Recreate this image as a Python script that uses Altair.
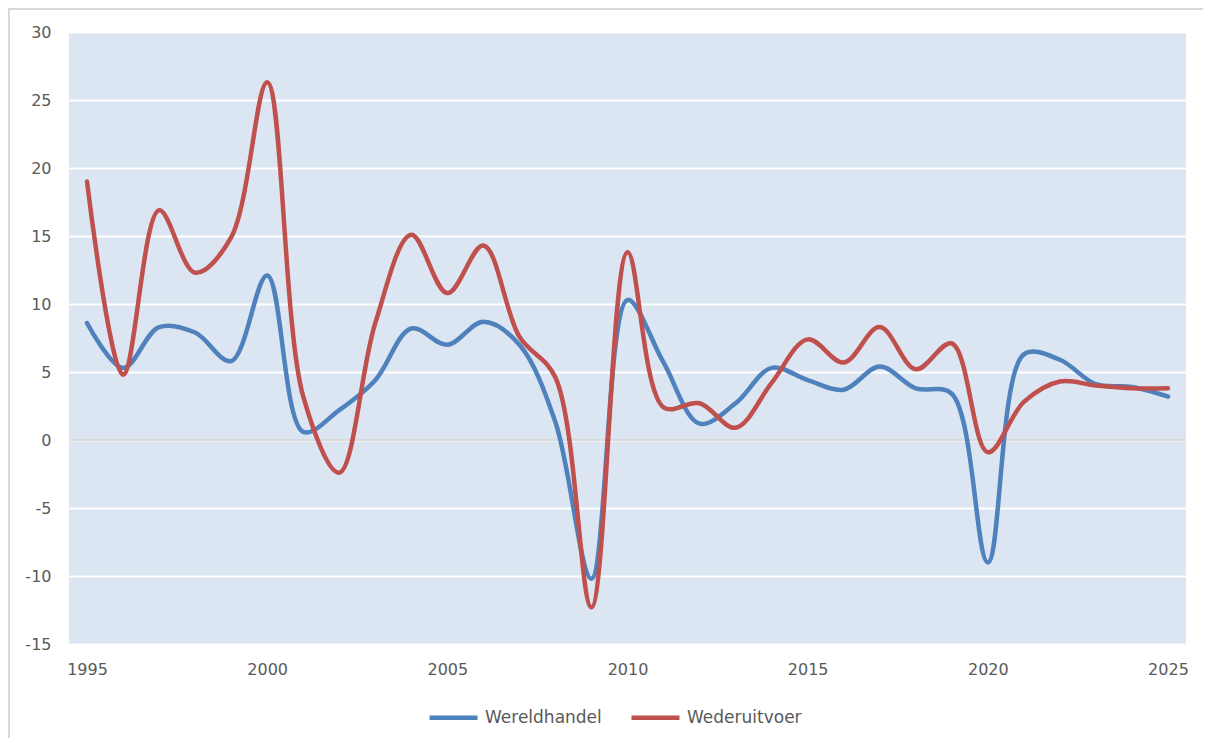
import altair as alt
import pandas as pd

years = list(range(1995, 2026))
wereldhandel = [8.6, 5.3, 8.3, 7.9, 5.8, 12.1, 0.6, 2.2, 4.4, 8.2, 7.0, 8.7, 7.0, 1.3,
                -10.2, 10.3, 5.7, 1.2, 2.7, 5.3, 4.4, 3.7, 5.4, 3.8, 3.4, -9.0, 6.3,
                5.9, 4.1, 3.9, 3.2]
wederuitvoer = [19.0, 4.8, 16.9, 12.3, 14.9, 26.3, 3.2, -2.4, 8.6, 15.1, 10.8, 14.3, 7.6,
                4.6, -12.3, 13.8, 2.4, 2.7, 0.9, 4.2, 7.4, 5.7, 8.3, 5.2, 7.1, -0.9,
                2.8, 4.3, 4.0, 3.8, 3.8]
series_names = ["Wereldhandel", "Wederuitvoer"]
series_colors = ["#4F81BD", "#C0504D"]
y_ticks = [-15, -10, -5, 0, 5, 10, 15, 20, 25, 30]
x_ticks = [1995, 2000, 2005, 2010, 2015, 2020, 2025]

rows = []
for i, y in enumerate(years):
    rows.append({"jaar": y, "waarde": wereldhandel[i], "reeks": series_names[0], "o": 0})
for i, y in enumerate(years):
    rows.append({"jaar": y, "waarde": wederuitvoer[i], "reeks": series_names[1], "o": 1})
df = pd.DataFrame(rows)

FONT = "DejaVu Sans"
GREY = "#595959"

x_enc = alt.X("jaar:Q",
              scale=alt.Scale(domain=[1994.5, 2025.5], nice=False, zero=False),
              axis=alt.Axis(values=x_ticks, format="d", ticks=False, domain=False, grid=False,
                            labelFontSize=16, labelColor=GREY, labelFont=FONT,
                            labelPadding=17, title=None))
y_enc = alt.Y("waarde:Q",
              scale=alt.Scale(domain=[-15, 30], nice=False, zero=False),
              axis=alt.Axis(values=y_ticks, ticks=False, domain=False, grid=True,
                            gridColor="white", gridWidth=2, labelFontSize=16,
                            labelExpr="toString(datum.value)",
                            labelColor=GREY, labelFont=FONT, labelPadding=18, title=None))

lines = alt.Chart(df).mark_line(strokeWidth=4.5, interpolate="catmull-rom",
                                strokeCap="round").encode(
    x=x_enc,
    y=y_enc,
    color=alt.Color("reeks:N",
                    scale=alt.Scale(domain=series_names, range=series_colors),
                    sort=series_names,
                    legend=alt.Legend(title=None, orient="none", direction="horizontal",
                                      legendX=358, legendY=659, symbolType="stroke",
                                      symbolSize=2304, symbolStrokeWidth=4.5,
                                      labelFontSize=17, labelColor=GREY, labelFont=FONT,
                                      labelOffset=5, columnPadding=20)),
    detail="reeks:N",
    order="o:Q",
)

zero = alt.Chart(pd.DataFrame({"v": [0]})).mark_rule(color="#D9D9D9", strokeWidth=2).encode(
    y=alt.Y("v:Q", scale=alt.Scale(domain=[-15, 30], nice=False)))

border_left = alt.Chart(pd.DataFrame({"v": [0]})).mark_rule(
    color="#D9D9D9", strokeWidth=2).encode(
    x=alt.value(-60), y=alt.value(-24), y2=alt.value(706))
border_top = alt.Chart(pd.DataFrame({"v": [0]})).mark_rule(
    color="#D9D9D9", strokeWidth=2).encode(
    x=alt.value(-60), x2=alt.value(1134), y=alt.value(-23))

chart = alt.layer(zero, lines, border_left, border_top).properties(
    width=1117, height=612,
    background="white",
    autosize=alt.AutoSizeParams(type="none"),
    padding={"left": 61, "top": 24, "right": 17, "bottom": 94},
).configure_view(fill="#DCE6F2", stroke=None)

chart.save("out.html", embed_options={"renderer": "svg", "actions": False})
